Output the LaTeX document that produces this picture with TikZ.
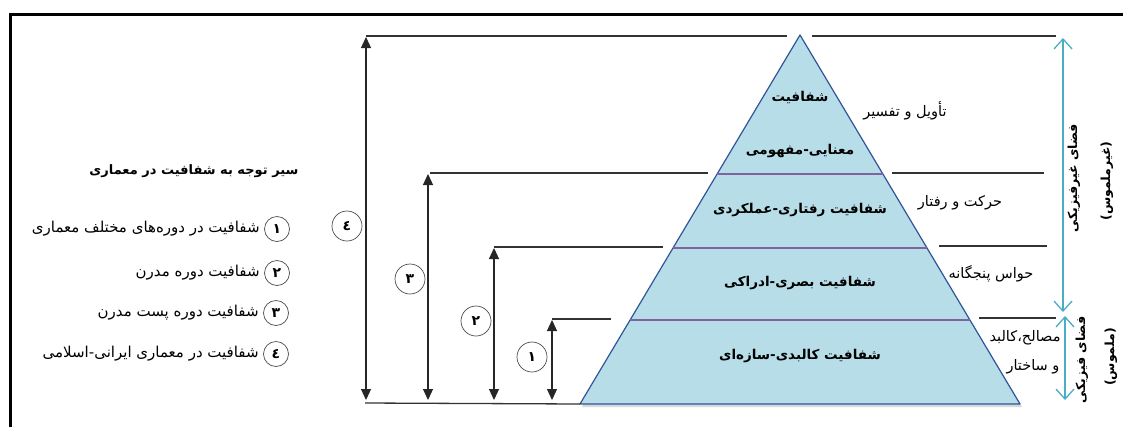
\documentclass[tikz,border=0pt]{standalone}
\usepackage{fontspec}
\newfontfamily\fa[Script=Arabic]{DejaVu Sans}
\TeXXeTstate=1
\usepackage{tikz}
\usetikzlibrary{arrows.meta,positioning,calc}
\definecolor{pyrfill}{HTML}{B7DEE8}
\definecolor{pyredge}{HTML}{2F5597}
\definecolor{bandline}{HTML}{8064A2}
\definecolor{spaceline}{HTML}{4BACC6}

\begin{document}
\begin{tikzpicture}[x=1pt,y=-1pt,>=Latex,
  level/.style={line width=1.3pt,black!80},
  dim/.style={<->,line width=1.2pt,black!85,>={Triangle[length=11pt,width=10pt]}},
  num/.style={circle,draw=black!70,line width=0.7pt,minimum size=30pt,inner sep=0pt,font=\fa\bfseries\fontsize{14}{16}\selectfont},
  key/.style={num,minimum size=25pt},
  tier/.style={font=\fa\bfseries\fontsize{13.5}{16}\selectfont},
  side/.style={font=\fa\fontsize{14.5}{17}\selectfont},
  item/.style={font=\fa\fontsize{15}{17}\selectfont,anchor=east},
  head/.style={font=\fa\bfseries\fontsize{13}{15}\selectfont,anchor=east},
  span/.style={<->,spaceline,line width=1.3pt,>={Straight Barb[length=10pt,width=18pt]}},
  vlabel/.style={rotate=90,font=\fa\bfseries\fontsize{12.5}{14}\selectfont}]
  \useasboundingbox (0,0) rectangle (1123,426);
  \draw[line width=3pt] (10,430) -- (10,14) -- (1130,14);

  \coordinate (apex) at (800,35);
  \coordinate (bl) at (580,404);
  \coordinate (br) at (1020,404);
  \fill[black!30,opacity=.5] ($(bl)+(2,3)$) -- ($(apex)+(2,3)$) -- ($(br)+(2,3)$) -- cycle;
  \draw[fill=pyrfill,draw=pyredge,line width=1.2pt,line join=round] (bl) -- (apex) -- (br) -- cycle;
  \foreach \t in {0.2276,0.4228,0.6233}
    \draw[bandline,line width=1.3pt] ($(bl)!\t!(apex)$) -- ($(br)!\t!(apex)$);

  \node[tier] (t4a) at (800,97) {\beginR شفافیت\endR};
  \node[tier] (t4b) at (800,151) {\beginR معنایی-مفهومی\endR};
  \node[tier] (t3) at (800,210) {\beginR شفافیت رفتاری-عملکردی\endR};
  \node[tier] (t2) at (800,283) {\beginR شفافیت بصری-ادراکی\endR};
  \node[tier] (t1) at (800,356) {\beginR شفافیت کالبدی-سازه‌ای\endR};

  \coordinate (l4a) at (366,36);  \coordinate (l4b) at (787,36);
  \coordinate (r4a) at (812,36);  \coordinate (r4b) at (1056,36);
  \coordinate (l3a) at (430,173); \coordinate (l3b) at (708,173);
  \coordinate (r3a) at (892,173); \coordinate (r3b) at (1044,173);
  \coordinate (l2a) at (494,247); \coordinate (l2b) at (663,247);
  \coordinate (r2a) at (939,246); \coordinate (r2b) at (1047,246);
  \coordinate (l1a) at (552,319); \coordinate (l1b) at (611,319);
  \coordinate (r1a) at (979,318); \coordinate (r1b) at (1056,318);
  \coordinate (base) at (365,403);
  \foreach \n in {4,3,2,1} {
    \draw[level] (l\n a) -- (l\n b);
    \draw[level] (r\n a) -- (r\n b);
  }
  \draw[level] (base) -- (bl);

  \coordinate (d4) at (366,403);
  \coordinate (d3) at (428,403);
  \coordinate (d2) at (494,403);
  \coordinate (d1) at (552,403);
  \draw[dim,shorten <=1pt,shorten >=3pt] (l4a) -- (d4);
  \draw[dim,shorten <=1pt,shorten >=3pt] (l3a-|d3) -- (d3);
  \draw[dim,shorten <=1pt,shorten >=3pt] (l2a) -- (d2);
  \draw[dim,shorten <=1pt,shorten >=3pt] (l1a) -- (d1);

  \node[num] (c4) at (347,226) {٤};
  \node[num] (c3) at (410,279) {٣};
  \node[num] (c2) at (476,321) {٢};
  \node[num] (c1) at (532,357) {١};

  \node[head] (title) at (302,171) {\beginR سیر توجه به شفافیت در معماری\endR};
  \node[key] (k1) at (277,229) {١};
  \node[key] (k2) at (277,273) {٢};
  \node[key] (k3) at (276,313) {٣};
  \node[key] (k4) at (276,354) {٤};
  \node[item,left=1pt of k1] (i1) {\beginR شفافیت در دوره‌های مختلف معماری\endR};
  \node[item,left=1pt of k2] (i2) {\beginR شفافیت دوره مدرن\endR};
  \node[item,left=1pt of k3] (i3) {\beginR شفافیت دوره پست مدرن\endR};
  \node[item,left=1pt of k4] (i4) {\beginR شفافیت در معماری ایرانی-اسلامی\endR};

  \node[side] (s4) at (905,111) {\beginR تأویل و تفسیر\endR};
  \node[side] (s3) at (960,203) {\beginR حرکت و رفتار\endR};
  \node[side] (s2) at (991,274) {\beginR حواس پنجگانه\endR};
  \node[side] (s1a) at (1025,338) {\beginR مصالح،کالبد\endR};
  \node[side] (s1b) at (1033,367) {\beginR و ساختار\endR};

  \coordinate (u1) at (1063,38);
  \coordinate (u2) at (1063,312);
  \coordinate (w1) at (1065,316);
  \coordinate (w2) at (1065,400);
  \draw[span] (u1) -- (u2);
  \draw[span] (w1) -- (w2);

  \node[vlabel] (v1) at (1074,178) {\beginR فضای غیرفیزیکی\endR};
  \node[vlabel] (v2) at (1107,181) {\beginR (غیرملموس)\endR};
  \node[vlabel] (v3) at (1082,360) {\beginR فضای فیزیکی\endR};
  \node[vlabel] (v4) at (1111,357) {\beginR (ملموس)\endR};
\end{tikzpicture}
\end{document}
